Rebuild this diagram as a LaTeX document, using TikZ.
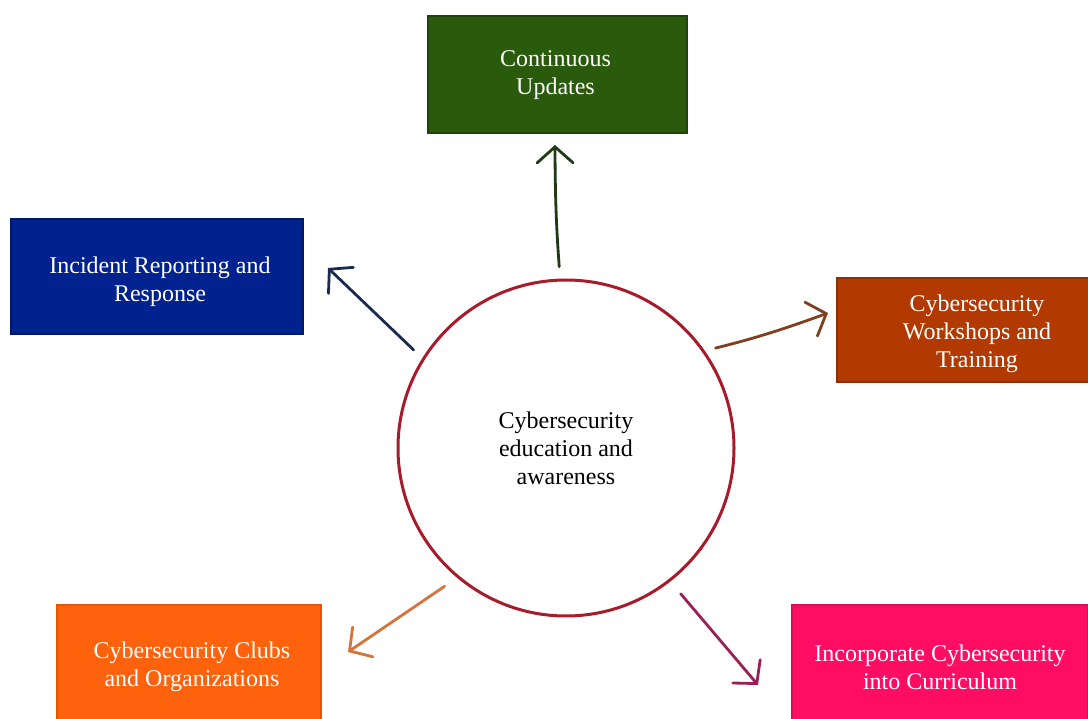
\documentclass[tikz,border=0pt]{standalone}
\usepackage{fontspec}
\setmainfont{Liberation Serif}
\usetikzlibrary{arrows.meta}

\definecolor{updfill}{HTML}{2A5A0C}
\definecolor{updline}{HTML}{1F4408}
\definecolor{incfill}{HTML}{00228E}
\definecolor{incline}{HTML}{00186A}
\definecolor{wshfill}{HTML}{B23A00}
\definecolor{wshline}{HTML}{8F2F00}
\definecolor{clbfill}{HTML}{FF620C}
\definecolor{clbline}{HTML}{E45508}
\definecolor{curfill}{HTML}{FF0D63}
\definecolor{curline}{HTML}{E00A55}
\definecolor{hubline}{HTML}{A81B2A}
\definecolor{arrUp}{HTML}{203A18}
\definecolor{arrUL}{HTML}{1B2B4F}
\definecolor{arrR}{HTML}{7F4020}
\definecolor{arrLL}{HTML}{D4743A}
\definecolor{arrLR}{HTML}{9A2055}

% invisible strut that gives the first line extra height, so the lines sit lower in the box
\newcommand{\headroom}[1]{\rule{0pt}{#1}}
% leading space that moves a centred line to the right by half the amount
\newcommand{\nudge}[1]{\hspace*{#1}}

\tikzset{
  txt/.style={font=\fontsize{24}{28}\selectfont, align=center},
  topic/.style={txt, rectangle, text=white, inner sep=0pt, line width=1.2pt},
  hubnode/.style={txt, circle, draw=hubline, line width=3pt, minimum size=336pt, inner sep=0pt},
  link/.style={line width=2.8pt, line cap=round, line join=round,
               -{Straight Barb[length=16pt,width=36pt,line cap=round]}},
}

\begin{document}
\begin{tikzpicture}[x=1pt,y=-1pt]
\useasboundingbox (0,0) rectangle (1088,719);
\clip (0,0) rectangle (1088,719);
\fill[white] (0,0) rectangle (1088,719);

% central topic
\node[hubnode] (hub) at (566,448) {Cybersecurity\\education and\\awareness};

% surrounding topics
\node[topic, fill=updfill, draw=updline, minimum width=259pt, minimum height=117pt]
  (upd) at (557.5,74.5) {\headroom{18pt}Continuous\nudge{4pt}\\Updates\nudge{4pt}};
\node[topic, fill=incfill, draw=incline, minimum width=292pt, minimum height=115pt]
  (inc) at (157,276.5) {\headroom{27pt}\nudge{6pt}Incident Reporting and\\\nudge{6pt}Response};
\node[topic, fill=wshfill, draw=wshline, minimum width=280pt, minimum height=104pt]
  (wsh) at (977,330) {\headroom{24.5pt}Cybersecurity\\Workshops and\\Training};
\node[topic, fill=clbfill, draw=clbline, minimum width=264pt, minimum height=116pt]
  (clb) at (189,663) {\headroom{24.5pt}\nudge{6pt}Cybersecurity Clubs\\\nudge{6pt}and Organizations};
\node[topic, fill=curfill, draw=curline, minimum width=296pt, minimum height=124pt]
  (cur) at (940,667) {Incorporate Cybersecurity\\into Curriculum};

% arrow tips, just short of each topic box
\coordinate (tUpd) at (555,145);
\coordinate (tInc) at (328,268);
\coordinate (tWsh) at (828,313);
\coordinate (tClb) at (348,652);
\coordinate (tCur) at (758,685);

% connectors leaving the hub
\draw[link, arrUp, shorten <=12pt] (hub.92.5) to[bend left=2] (tUpd);
\draw[link, arrUL, shorten <=12pt] (hub.148) -- (tInc);
\draw[link, arrR,  shorten <=11pt] (hub.35) to[bend right=3] (tWsh);
\draw[link, arrLL, shorten <=15pt] (hub.230.8) -- (tClb);
\draw[link, arrLR, shorten <=16pt] (hub.308.4) -- (tCur);
\end{tikzpicture}
\end{document}
